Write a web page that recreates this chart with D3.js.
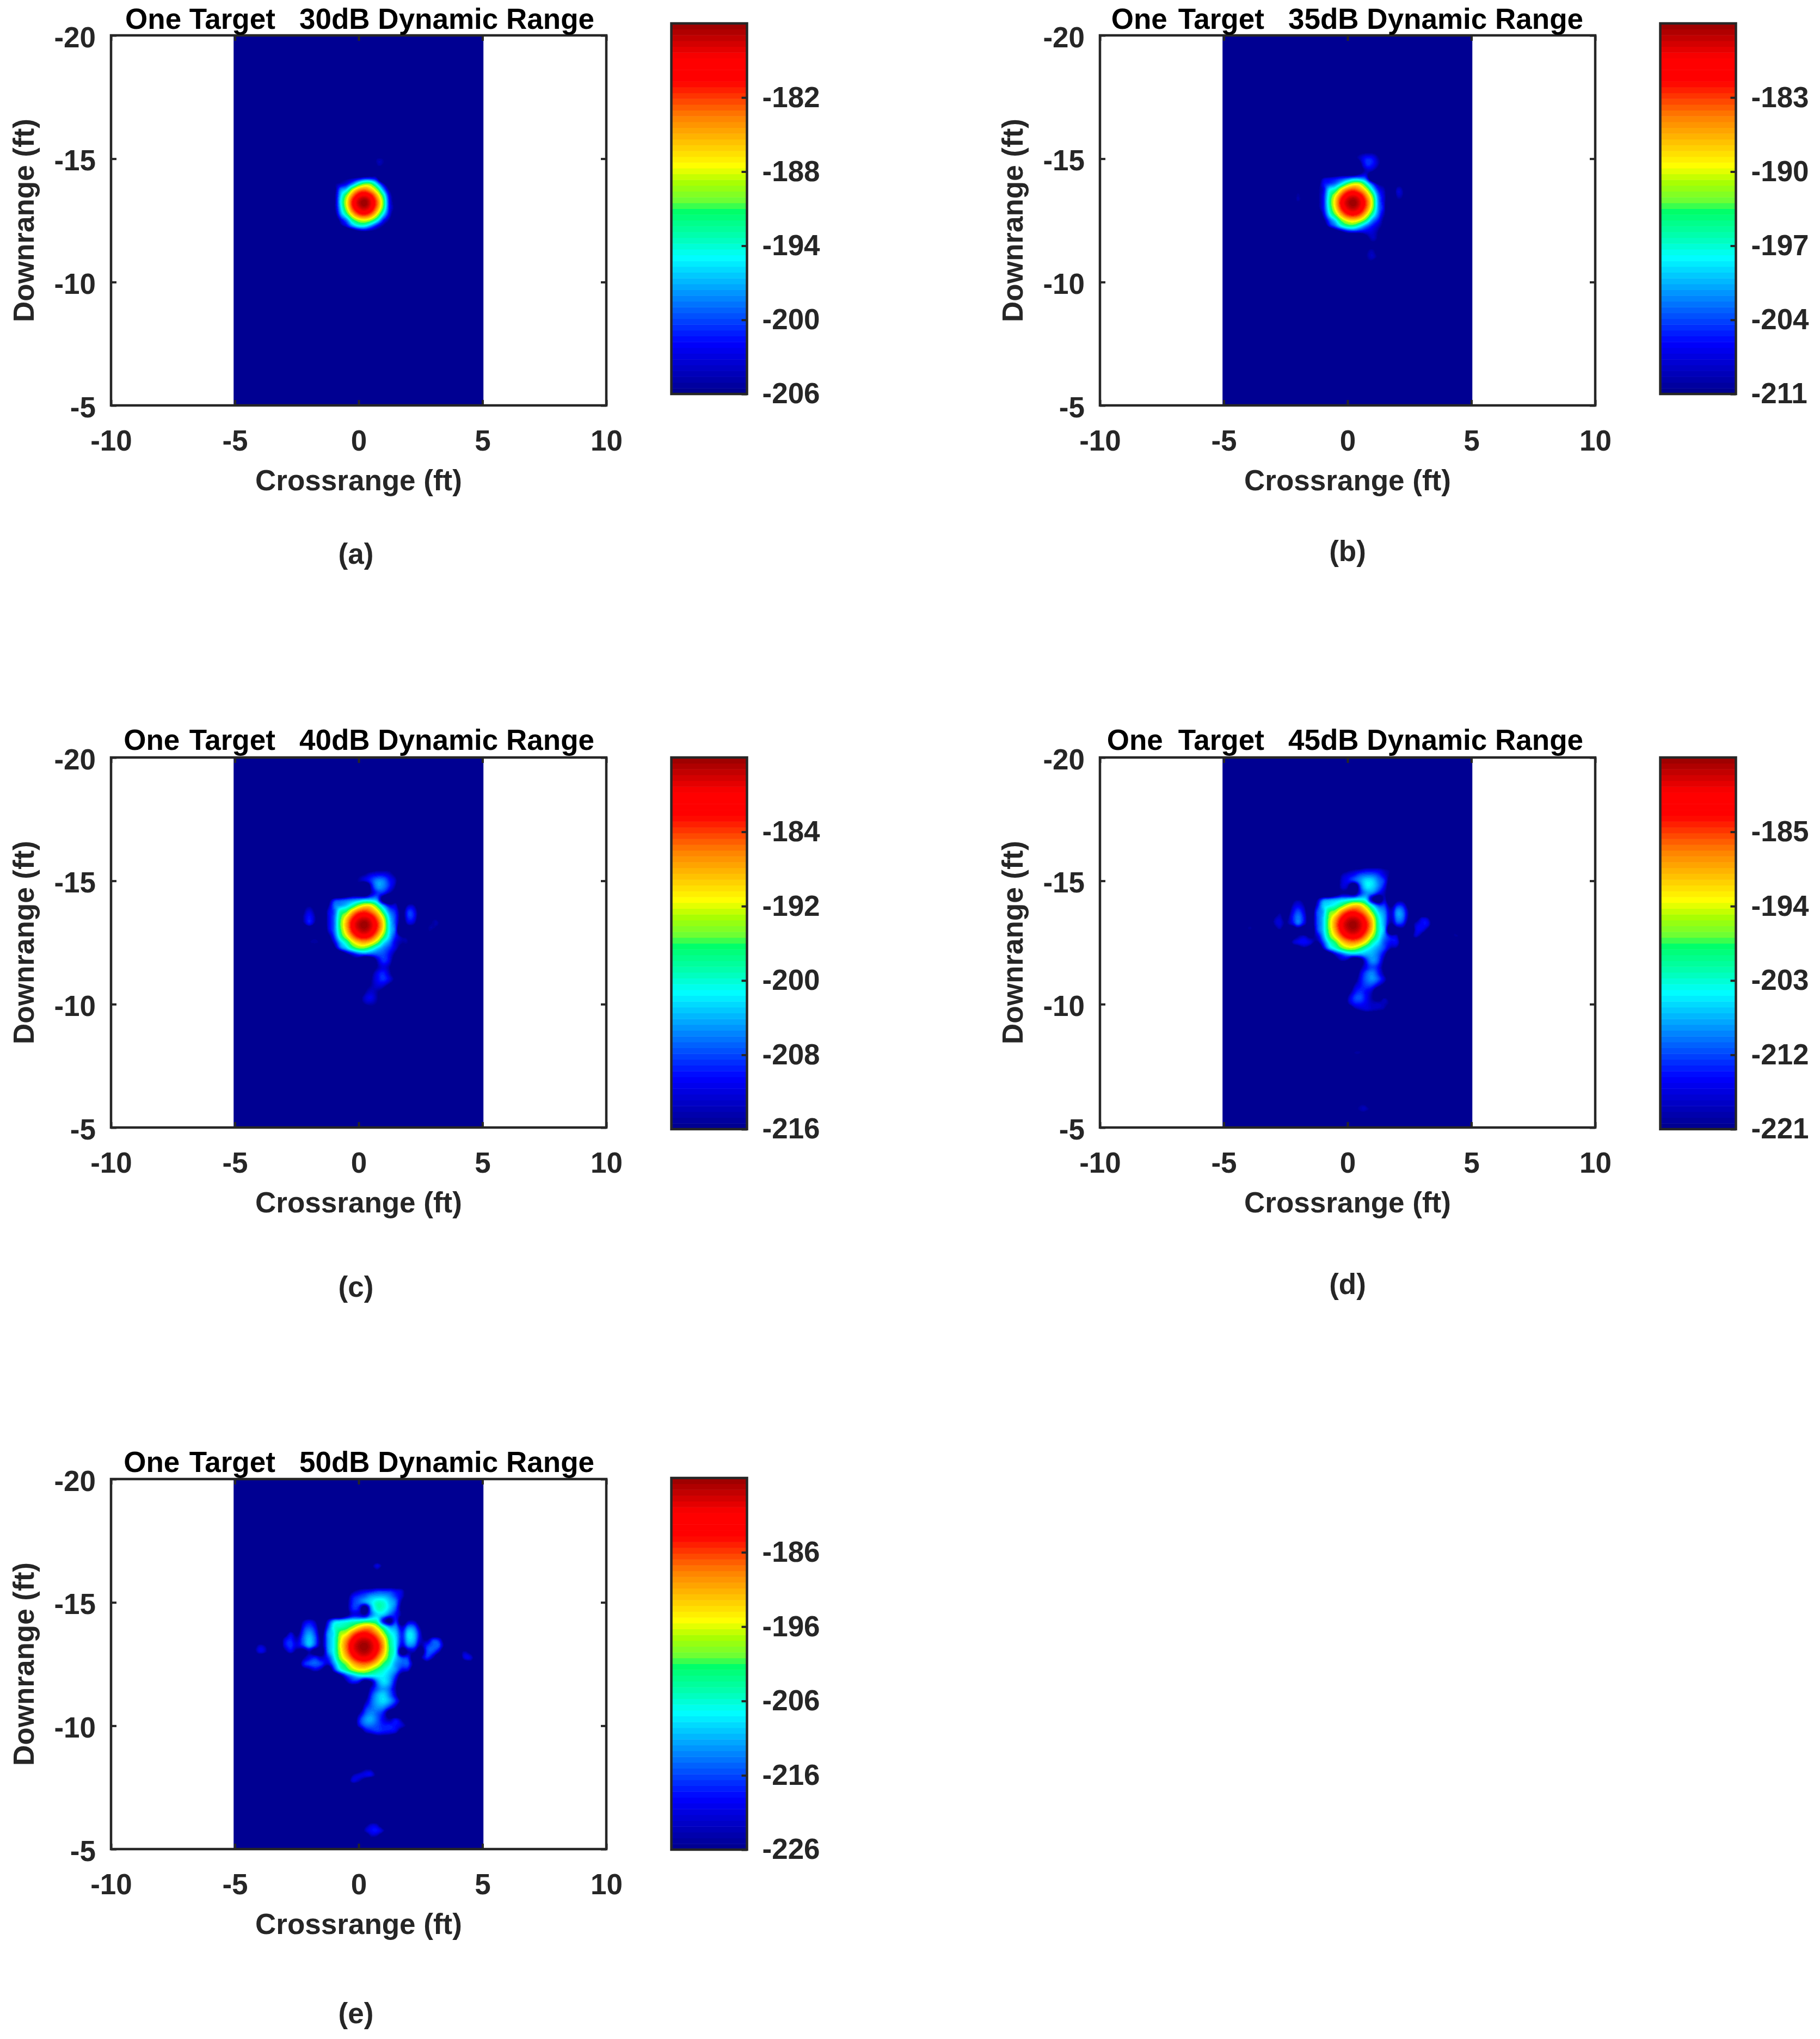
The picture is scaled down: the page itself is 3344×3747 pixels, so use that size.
<!DOCTYPE html>
<html>
<head>
<meta charset="utf-8">
<style>
  body { margin: 0; background: #fff; }
  text { font-family: "Liberation Sans", Arial, sans-serif; font-weight: bold; white-space: pre; }
</style>
<script src="https://cdn.jsdelivr.net/npm/d3@7"></script>
</head>
<body>
<svg id="chart" width="3344" height="3747"></svg>
<script>
// one return, shown at five dynamic ranges
const peakDb = -176;
const dynamicRanges = [30, 35, 40, 45, 50];
const panelTitles = ["Target   30dB Dynamic Range", "Target   35dB Dynamic Range", "Target   40dB Dynamic Range", "Target   45dB Dynamic Range", "Target   50dB Dynamic Range"];
const titleWordGaps = [14.7, 20, 17.5, 28, 17.5];
const panelLetters = ["(a)", "(b)", "(c)", "(d)", "(e)"];
const colorbarTicks = [
  [-206, -200, -194, -188, -182],
  [-211, -204, -197, -190, -183],
  [-216, -208, -200, -192, -184],
  [-221, -212, -203, -194, -185],
  [-226, -216, -206, -196, -186]
];
const crossTicks = [-10, -5, 0, 5, 10];
const downTicks = [-20, -15, -10, -5];
const imageCross = [-5.05, 5.04];

// colormap
const jetPositions = [0, 0.139, 0.254, 0.369, 0.423, 0.498, 0.515, 0.572, 0.616, 0.748, 0.843, 0.907, 1];
const jetColors = ["#00008c", "#0000ff", "#0080ff", "#00ffff", "#00ffb4", "#00ff64", "#64ff3c", "#aaff00", "#ffff00", "#ff8000", "#ff0000", "#ff0000", "#960000"];
const colorLevels = 64;

// sample points of the image, in ft
const crossNodes = [-5, -4.5, -4.25, -4, -3.75, -3.5, -3.25, -3, -2.75, -2.5, -2.25, -2, -1.75, -1.5, -1.25, -1, -0.75, -0.5, -0.25, 0,
  0.25, 0.5, 0.75, 1, 1.25, 1.5, 1.75, 2, 2.25, 2.5, 2.75, 3, 3.25, 3.5, 3.75, 4, 4.25, 4.5, 4.75, 5];
const quietDown = 60;

// dB below peak: [downrange, first crossrange node, values]. Anything not listed is quiet.
const dbDownRows = [
  [-20, 0, []],
  [-16.75, 0.75, [58]],
  [-16.5, 0.5, [52, 45, 52]],
  [-16.25, 0.5, [56, 52, 58]],
  [-16, 0, []],
  [-15.75, 0, []],
  [-15.5, -0.25, [52, 48, 46, 45, 43, 43, 43, 45, 47, 56]],
  [-15.25, -0.5, [54, 44, 41, 39, 36, 35, 35, 37, 41, 46, 55]],
  [-15, -0.5, [52, 42, 39, 37, 33, 29.5, 30, 34, 38, 50]],
  [-14.75, -0.5, [52, 42, 43, 56, 37, 29.5, 30, 34, 40, 52]],
  [-14.5, -0.5, [52, 45, 45, 48, 38, 33, 34, 39, 43, 50]],
  [-14.25, -2.25, [49, 45, 49, 60, 46, 36, 34, 32.5, 31, 30, 28.5, 28, 30, 44, 52, 42, 56, 48, 48, 56]],
  [-14, -2.25, [44, 40, 44, 55, 41, 31, 29, 27, 23, 18, 15, 15.5, 21, 29, 36, 37, 46, 38, 39, 50]],
  [-13.75, -3, [56, 46, 52, 41, 36, 41, 52, 37, 32, 23, 20, 13, 8.7, 7.5, 9.6, 14, 22, 30, 34, 42, 33, 35, 46]],
  [-13.5, -3, [46, 42, 47, 39, 34, 39, 50, 37, 31, 21, 14, 7.5, 3.6, 2.5, 4.4, 9.3, 16.5, 27, 33, 42, 33.5, 35, 46, 50, 42, 44, 56]],
  [-13.25, -4.25, [54, 47, 50, 60, 60, 45, 41, 45, 41, 35, 41, 50, 37, 31, 20, 12, 5, 1.3, 0, 2.4, 7, 14.5, 26, 33, 45, 37.5, 39, 49, 42, 39, 40, 52]],
  [-13, -5, [49, 60, 53, 45, 48, 60, 60, 52, 45, 52, 54, 48, 54, 54, 38, 31, 21, 13, 6, 2.4, 1.2, 3.3, 8, 15.5, 26, 33, 55, 48, 48, 56, 41, 40, 47, 60, 60, 56, 48, 52]],
  [-12.75, -4, [58, 60, 60, 60, 60, 60, 60, 50, 44, 42, 46, 42, 33, 23, 16.5, 10, 6, 5, 7, 12, 19.5, 27, 34, 40, 42, 56, 50, 42, 48, 60, 60, 60, 60, 46, 45, 54]],
  [-12.5, -2.25, [44, 40, 39, 41, 46, 37, 28, 23, 16.5, 13, 12, 14, 18.6, 25.5, 30, 36, 39, 40, 52, 60, 54, 60, 60, 60, 60, 60, 58, 55]],
  [-12.25, -2.25, [54, 50, 46, 50, 60, 44, 33, 28, 23, 20, 20, 23, 27, 30, 33, 37, 44, 46, 58]],
  [-12, -0.75, [52, 42, 37, 33.5, 33, 33, 32, 32, 35, 42, 55]],
  [-11.75, -0.5, [50, 44, 46, 56, 50, 38, 33, 36, 46]],
  [-11.5, 0.25, [58, 46, 39, 36, 39, 48]],
  [-11.25, 0.25, [55, 42, 35.5, 33.5, 38, 46]],
  [-11, 0.25, [50, 40, 35, 33, 36, 42, 52]],
  [-10.75, 0.25, [44, 39, 36.5, 37, 42, 49]],
  [-10.5, 0, [50, 40, 37, 39, 43, 55]],
  [-10.25, 0, [44, 37, 35.5, 39, 44, 48, 44, 50]],
  [-10, 0, [46, 39.5, 38.5, 40, 42, 42, 43, 46, 52]],
  [-9.75, 0.25, [48, 44, 42, 43, 44, 46, 56]],
  [-9.5, 0.5, [58, 54, 54, 55]],
  [-9.25, 0, []],
  [-8.5, 0, []],
  [-8.25, 0, [56, 50, 50, 58]],
  [-8, -0.25, [49, 45.5, 44.5, 44.5, 52]],
  [-7.75, -0.5, [56, 46, 48, 54]],
  [-7.5, 0, []],
  [-6.25, 0, []],
  [-6, 0.25, [53, 47, 48, 58]],
  [-5.75, 0.25, [48, 43.5, 43, 48]],
  [-5.5, 0.25, [58, 49, 50, 58]],
  [-5.25, 0, []],
  [-5, 0, []]
];

const downNodes = dbDownRows.map(r => r[0]);
const grid = dbDownRows.map(([, first, values]) => {
  const row = crossNodes.map(() => quietDown);
  const start = crossNodes.indexOf(first);
  values.forEach((v, i) => { row[start + i] = v; });
  return row;
});

// layout
const colLefts = [204, 2021];
const rowTops = [65, 1392, 2718];
const plotW = 910, plotH = 680;
const barGap = 1029.5, barW = 139;
const barTops = [-22, 0, -2], barBottoms = [659, 683, 681];
const titleLift = [12, 14, 13];
const panelPos = [[0, 0], [1, 0], [0, 1], [1, 1], [0, 2]];
const letterCenterY = [1018, 1013, 2365, 2360, 3700];
const letterShift = [-5, 0];
const ink = "#262626";

const svg = d3.select("#chart");

const colorAt = d3.scaleLinear().domain(jetPositions).range(jetColors);
const palette = d3.range(colorLevels).map(i => d3.rgb(colorAt((i + 0.5) / colorLevels)));

// smooth between the sample points, like shading interp
const colIndex = d3.scaleLinear().domain(crossNodes).range(d3.range(crossNodes.length)).clamp(true);
const rowIndex = d3.scaleLinear().domain(downNodes).range(d3.range(downNodes.length)).clamp(true);
const catmull = (a, b, c, d, t) =>
  b + 0.5 * t * (c - a + t * (2 * a - 5 * b + 4 * c - d + t * (3 * (b - c) + d - a)));
const cellAt = (r, c) =>
  grid[Math.max(0, Math.min(grid.length - 1, r))][Math.max(0, Math.min(crossNodes.length - 1, c))];

const x0 = d3.scaleLinear().domain([-10, 10]).range([0, plotW]);
const y0 = d3.scaleLinear().domain([-20, -5]).range([0, plotH]);
const imgLeft = x0(imageCross[0]);
const imgW = Math.round(x0(imageCross[1]) - imgLeft);

const field = new Float32Array(imgW * plotH);
for (let py = 0; py < plotH; py++) {
  const ry = rowIndex(y0.invert(py + 0.5));
  const r = Math.floor(ry), tr = ry - r;
  for (let px = 0; px < imgW; px++) {
    const cx = colIndex(x0.invert(imgLeft + px + 0.5));
    const c = Math.floor(cx), tc = cx - c;
    const across = [-1, 0, 1, 2].map(dr =>
      catmull(cellAt(r + dr, c - 1), cellAt(r + dr, c), cellAt(r + dr, c + 1), cellAt(r + dr, c + 2), tc));
    field[py * imgW + px] = catmull(across[0], across[1], across[2], across[3], tr);
  }
}

function drawImage(range) {
  const level = d3.scaleQuantize().domain([peakDb - range, peakDb]).range(d3.range(colorLevels));
  const canvas = document.createElement("canvas");
  canvas.width = imgW;
  canvas.height = plotH;
  const ctx = canvas.getContext("2d");
  const img = ctx.createImageData(imgW, plotH);
  field.forEach((down, i) => {
    const c = palette[level(peakDb - Math.max(0, down))];
    img.data[i * 4] = c.r;
    img.data[i * 4 + 1] = c.g;
    img.data[i * 4 + 2] = c.b;
    img.data[i * 4 + 3] = 255;
  });
  ctx.putImageData(img, 0, 0);
  return canvas.toDataURL();
}

const styleAxis = g => {
  g.select(".domain").remove();
  g.selectAll("line").attr("stroke", ink).attr("stroke-width", 4);
  g.selectAll("text").attr("font-size", 53).attr("fill", ink);
};

dynamicRanges.forEach((range, i) => {
  const [col, row] = panelPos[i];
  const g = svg.append("g").attr("transform", `translate(${colLefts[col]},${rowTops[row]})`);

  g.append("image")
    .attr("x", imgLeft)
    .attr("y", 0)
    .attr("width", imgW)
    .attr("height", plotH)
    .attr("href", drawImage(range));

  // ticks point inward on all four sides
  g.append("g").attr("transform", `translate(0,${plotH})`)
    .call(d3.axisBottom(x0).tickValues(crossTicks).tickSize(-10).tickPadding(45).tickFormat(String))
    .call(styleAxis);
  g.append("g")
    .call(d3.axisTop(x0).tickValues(crossTicks).tickSize(-10).tickFormat(""))
    .call(styleAxis);
  g.append("g")
    .call(d3.axisLeft(y0).tickValues(downTicks).tickSize(-10).tickPadding(28).tickFormat(String))
    .call(styleAxis)
    .call(a => a.selectAll("text").attr("dy", "0.4em"));
  g.append("g").attr("transform", `translate(${plotW},0)`)
    .call(d3.axisRight(y0).tickValues(downTicks).tickSize(-10).tickFormat(""))
    .call(styleAxis);

  g.append("rect")
    .attr("width", plotW)
    .attr("height", plotH)
    .attr("fill", "none")
    .attr("stroke", ink)
    .attr("stroke-width", 4.5);

  const title = g.append("text")
    .attr("x", 888)
    .attr("y", -titleLift[row])
    .attr("text-anchor", "end")
    .attr("font-size", 53)
    .attr("fill", "#000");
  title.append("tspan").text("One");
  title.append("tspan").attr("dx", titleWordGaps[i]).text(panelTitles[i]);

  g.append("text")
    .attr("x", plotW / 2)
    .attr("y", plotH + 156)
    .attr("text-anchor", "middle")
    .attr("font-size", 53)
    .attr("fill", ink)
    .text("Crossrange (ft)");

  g.append("text")
    .attr("transform", `translate(-142,${plotH / 2}) rotate(-90)`)
    .attr("text-anchor", "middle")
    .attr("font-size", 53)
    .attr("fill", ink)
    .text("Downrange (ft)");

  g.append("text")
    .attr("x", plotW / 2 + letterShift[col])
    .attr("y", letterCenterY[i] - rowTops[row] + 18)
    .attr("text-anchor", "middle")
    .attr("font-size", 53)
    .attr("fill", ink)
    .text(panelLetters[i]);

  // colorbar
  const barY = d3.scaleLinear().domain([peakDb - range, peakDb]).range([barBottoms[row], barTops[row]]);
  const bar = g.append("g").attr("transform", `translate(${barGap},0)`);
  bar.selectAll("rect")
    .data(d3.range(colorLevels))
    .enter()
    .append("rect")
    .attr("x", 0)
    .attr("y", d => barY(peakDb - range + range * (d + 1) / colorLevels))
    .attr("width", barW)
    .attr("height", d => barY(peakDb - range) - barY(peakDb - range + range / colorLevels) + 0.5)
    .attr("fill", d => palette[d]);

  bar.append("g").attr("transform", `translate(${barW},0)`)
    .call(d3.axisRight(barY).tickValues(colorbarTicks[i]).tickSize(-10).tickPadding(28).tickFormat(String))
    .call(styleAxis);

  bar.append("rect")
    .attr("y", barY(peakDb))
    .attr("width", barW)
    .attr("height", barY(peakDb - range) - barY(peakDb))
    .attr("fill", "none")
    .attr("stroke", ink)
    .attr("stroke-width", 4.5);
});
</script>
</body>
</html>
